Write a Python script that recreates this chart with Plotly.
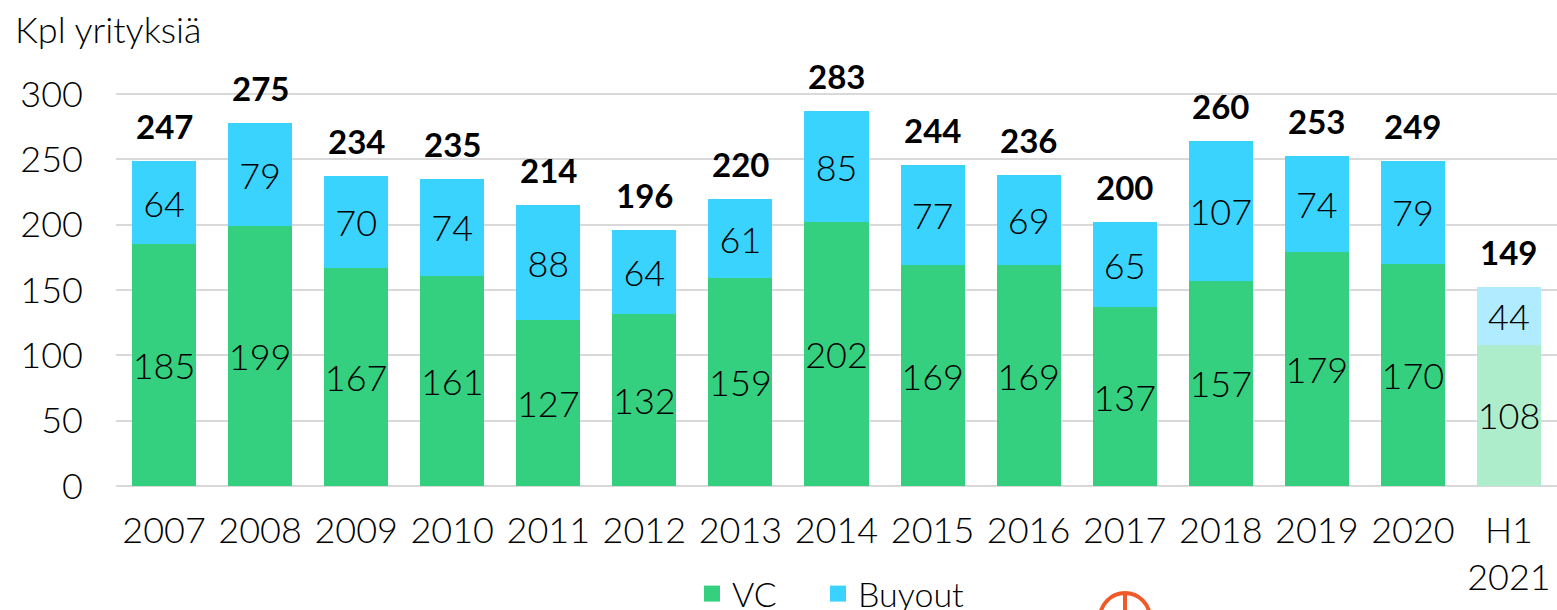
import plotly.graph_objects as go

categories = ["2007", "2008", "2009", "2010", "2011", "2012", "2013", "2014",
              "2015", "2016", "2017", "2018", "2019", "2020", "H1<br>2021"]
vc = [185, 199, 167, 161, 127, 132, 159, 202, 169, 169, 137, 157, 179, 170, 108]
buyout = [64, 79, 70, 74, 88, 64, 61, 85, 77, 69, 65, 107, 74, 79, 44]
totals = [247, 275, 234, 235, 214, 196, 220, 283, 244, 236, 200, 260, 253, 249, 149]

FONT = "Lato"
GREEN, GREEN_L = "#34D07F", "#ADEDCB"
BLUE, BLUE_L = "#39D3FE", "#B0EBFF"
LBL = 36
W = 300

vc_colors = [GREEN] * (len(categories) - 1) + [GREEN_L]
bo_colors = [BLUE] * (len(categories) - 1) + [BLUE_L]

fig = go.Figure()
fig.add_trace(go.Bar(
    x=categories, y=vc, name="VC", marker=dict(color=vc_colors, line=dict(width=0)),
    text=vc, textposition="inside", insidetextanchor="middle", textangle=0,
    constraintext="none", textfont=dict(family=FONT, size=LBL, color="black", weight=W),
    showlegend=False,
))
fig.add_trace(go.Bar(
    x=categories, y=buyout, name="Buyout", marker=dict(color=bo_colors, line=dict(width=0)),
    text=buyout, textposition="inside", insidetextanchor="middle", textangle=0,
    constraintext="none", textfont=dict(family=FONT, size=LBL, color="black", weight=W),
    showlegend=False,
))
# legend entries (square swatches), one legend each so they can be placed apart
for name, col, lg in [("VC", GREEN, "legend"), ("Buyout", BLUE, "legend2")]:
    fig.add_trace(go.Scatter(x=[None], y=[None], mode="markers", name=name,
                             marker=dict(symbol="square", size=20, color=col),
                             showlegend=True, legend=lg))

tops = [a + b for a, b in zip(vc, buyout)]
for i, (t, lab) in enumerate(zip(tops, totals)):
    fig.add_annotation(x=i, y=t, text=f"<b>{lab}</b>", showarrow=False,
                       yanchor="bottom", yshift=13,
                       font=dict(family=FONT, size=33, color="black"))

legend_common = dict(orientation="h", xanchor="left",
                     y=1 - (594 - 55) / 431, yanchor="middle",
                     font=dict(family=FONT, size=34, color="black", weight=W),
                     itemwidth=30, itemsizing="trace", bgcolor="rgba(0,0,0,0)")

fig.update_layout(
    width=1557, height=610,
    barmode="stack", bargap=1/3,
    paper_bgcolor="white", plot_bgcolor="white",
    margin=dict(l=116, r=0, t=55, b=124, autoexpand=False),
    font=dict(family=FONT, size=LBL, color="black", weight=W),
    title=dict(text="Kpl yrityksiä", x=0.0096, xanchor="left", y=1 - 30/610,
               yanchor="middle", font=dict(family=FONT, size=36, color="black", weight=W)),
    showlegend=True,
    legend=dict(x=(692 - 116) / 1441, **legend_common),
    legend2=dict(x=(818 - 116) / 1441, **legend_common),
    yaxis=dict(range=[0, 330], tickvals=[0, 50, 100, 150, 200, 250, 300],
               showgrid=True, gridcolor="#D9D9D9", gridwidth=2,
               zeroline=True, zerolinecolor="#D9D9D9", zerolinewidth=2,
               ticks="", ticklabelstandoff=32,
               tickfont=dict(family=FONT, size=LBL, color="black", weight=W)),
    xaxis=dict(type="category", range=[-0.5, len(categories) - 0.5],
               showgrid=False, ticks="", ticklabelstandoff=20,
               tickfont=dict(family=FONT, size=LBL, color="black", weight=W)),
)

# partial logo at bottom
fig.add_shape(type="circle", xref="paper", yref="paper",
              x0=(1100 - 116) / 1441, x1=(1150 - 116) / 1441,
              y0=1 - (643 - 55) / 431, y1=1 - (593 - 55) / 431,
              line=dict(color="#F05A28", width=4))
fig.add_shape(type="line", xref="paper", yref="paper",
              x0=(1125 - 116) / 1441, x1=(1125 - 116) / 1441,
              y0=1 - (643 - 55) / 431, y1=1 - (593 - 55) / 431,
              line=dict(color="#F05A28", width=4))

fig.write_html("out.html", config={"displayModeBar": False},
               post_script="document.body.style.margin='0';")
